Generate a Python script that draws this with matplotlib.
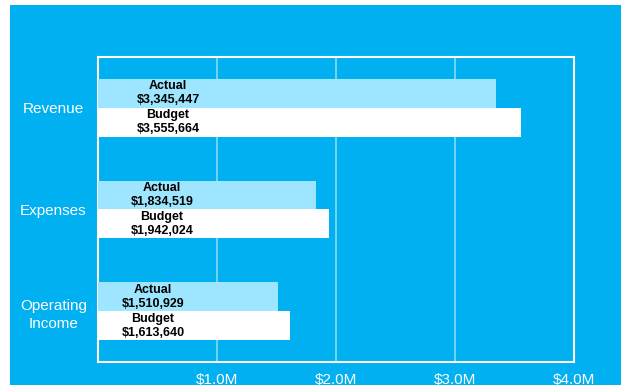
import matplotlib
matplotlib.use("Agg")
import matplotlib.pyplot as plt
from matplotlib.patches import Rectangle
import numpy as np

categories = ["Revenue", "Expenses", "Operating\nIncome"]
actual = [3345447, 1834519, 1510929]
budget = [3555664, 1942024, 1613640]
label_x = [0.588e6, 0.538e6, 0.462e6]
xticks = [1e6, 2e6, 3e6, 4e6]
xtick_labels = ["$1.0M", "$2.0M", "$3.0M", "$4.0M"]

BG = "#00B0F0"
ACT = "#9EE6FF"
GRID = "#7DD6F6"

plt.rcParams['font.family'] = ['Liberation Sans', 'DejaVu Sans']

fig = plt.figure(figsize=(6.27, 3.85), dpi=100, facecolor="white")
fig.patches.append(Rectangle((10/627, 0), (621-10)/627, 1 - 5/385,
                             transform=fig.transFigure, facecolor=BG,
                             edgecolor="none", zorder=-5))

ax = fig.add_axes([98/627, 1 - 362/385, (574-98)/627, (362-57)/385])
ax.set_zorder(5)
ax.set_facecolor(BG)

y = np.arange(len(categories))
h = 0.285
ax.barh(y - h/2, actual, height=h, color=ACT, zorder=3)
ax.barh(y + h/2, budget, height=h, color="white", zorder=3)

for i in range(len(categories)):
    ax.text(label_x[i], y[i] - h/2, f"Actual\n${actual[i]:,}", ha="center", va="center",
            fontsize=9, fontweight="bold", color="#000000", linespacing=1.2, zorder=4)
    ax.text(label_x[i], y[i] + h/2, f"Budget\n${budget[i]:,}", ha="center", va="center",
            fontsize=9, fontweight="bold", color="#000000", linespacing=1.2, zorder=4)

ax.set_xlim(0, 4e6)
ax.set_ylim(2.5, -0.5)
ax.set_yticks(y)
ax.set_yticklabels(categories, fontsize=11, color="white", ha="center",
                   multialignment="center", linespacing=1.35)
ax.tick_params(axis="y", length=0, pad=32)
ax.set_xticks(xticks)
ax.set_xticklabels(xtick_labels, fontsize=11, color="white")
ax.tick_params(axis="x", length=0, pad=8)
ax.grid(axis="x", color=GRID, linewidth=1.3, zorder=1)
ax.set_axisbelow(True)
for s in ax.spines.values():
    s.set_color("white")
    s.set_linewidth(1.5)

fig.savefig("out.png", dpi=100, facecolor="white")
